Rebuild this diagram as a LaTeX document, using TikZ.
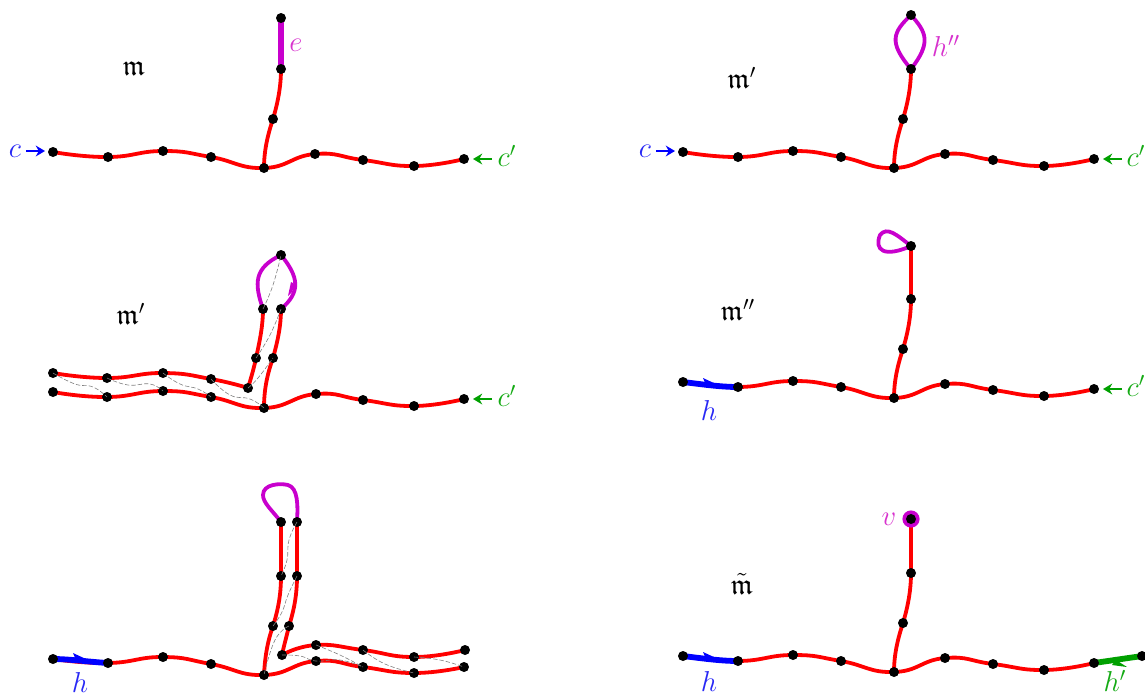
\documentclass[tikz,border=0pt,12pt]{standalone}
\usepackage{amssymb}
\usetikzlibrary{backgrounds,arrows.meta}
\definecolor{rd}{RGB}{255,0,0}
\definecolor{pu}{RGB}{200,0,205}
\definecolor{lpu}{RGB}{215,50,205}
\definecolor{bl}{RGB}{0,0,255}
\definecolor{lbl}{RGB}{40,40,245}
\definecolor{gr}{RGB}{0,160,0}
\definecolor{lgr}{RGB}{20,170,20}
\tikzset{
 dot/.style={circle,fill=black,inner sep=0pt,minimum size=5pt},
 redl/.style={draw=rd,line width=1.9pt,line cap=round},
 rsm/.style={redl,smooth,tension=0.85},
 purl/.style={draw=pu,line width=1.9pt,line cap=round},
 thickl/.style={line width=2.9pt},
 guide/.style={draw=black!50,line width=0.3pt,dash pattern=on 2.2pt off 1pt,smooth,tension=0.8},
 lab/.style={inner sep=0pt,font=\large},
 frak/.style={inner sep=0pt,font=\large},
 side/.style={line width=1.3pt,-{Stealth[length=4.6pt,width=5.4pt]}},
}
\newcommand{\dotat}[3]{\node[dot] (#1) at (#2,#3) {};}
\newcommand{\rowdots}[3]{%
 \dotat{#1a}{53+#2}{152+#3}\dotat{#1b}{108+#2}{157+#3}\dotat{#1c}{163+#2}{151+#3}\dotat{#1d}{211+#2}{157+#3}%
 \dotat{#1e}{264+#2}{168+#3}\dotat{#1f}{315+#2}{154+#3}\dotat{#1g}{363+#2}{160+#3}\dotat{#1h}{414+#2}{166+#3}\dotat{#1i}{464+#2}{159+#3}%
 \dotat{#1u}{273+#2}{119+#3}\dotat{#1w}{281+#2}{69+#3}%
 \begin{scope}[on background layer]
 \draw[rsm] plot coordinates {(#1a.center)(#1b.center)(#1c.center)(#1d.center)(#1e.center)(#1f.center)(#1g.center)(#1h.center)(#1i.center)};
 \draw[redl] (#1e.center) .. controls (264+#2,150+#3) and (268+#2,134+#3) .. (#1u.center) .. controls (278+#2,102+#3) and (281+#2,86+#3) .. (#1w.center);
 \end{scope}}
\begin{document}
\begin{tikzpicture}[x=0.5pt,y=-0.5pt]
\useasboundingbox (0,0) rectangle (1145,693);

% ---------- top left
\rowdots{p}{0}{0}
\node[dot] (pt) at (281,18) {};
\begin{scope}[on background layer]
\draw[purl,thickl] (pw.center) -- (pt.center);
\end{scope}
\node[lab,text=lpu] (pe) at (296,45) {$e$};
\node[frak] (pm) at (134,69) {$\mathfrak{m}$};
\node[lab,text=lbl] (pc) at (15,151) {$c$};
\coordinate (pc0) at (26,151);
\coordinate (pc1) at (45,151);
\draw[side,bl] (pc0) -- (pc1);
\node[lab,text=lgr] (pd) at (507,156) {$c'$};
\coordinate (pd0) at (492,159);
\coordinate (pd1) at (473,159);
\draw[side,gr] (pd0) -- (pd1);

% ---------- top right
\rowdots{q}{630}{0}
\node[dot] (qt) at (911,15) {};
\begin{scope}[on background layer]
\draw[purl] (qw.center) .. controls (888,42) and (893,32) .. (qt.center);
\draw[purl] (qw.center) .. controls (932,42) and (926,32) .. (qt.center);
\end{scope}
\fill[pu] (920,52) -- (925,38) -- (925,48) -- (918,58) -- cycle;
\node[lab,text=lpu] (qh) at (946,46) {$h''$};
\node[frak] (qm) at (742,78) {$\mathfrak{m}'$};
\node[lab,text=lbl] (qc) at (645,151) {$c$};
\coordinate (qc0) at (656,151);
\coordinate (qc1) at (675,151);
\draw[side,bl] (qc0) -- (qc1);
\node[lab,text=lgr] (qd) at (1136,156) {$c'$};
\coordinate (qd0) at (1122,159);
\coordinate (qd1) at (1103,159);
\draw[side,gr] (qd0) -- (qd1);

% ---------- middle left
\node[dot] (ra) at (53,373) {};
\node[dot] (rb) at (107,378) {};
\node[dot] (rc) at (163,373) {};
\node[dot] (rd) at (211,379) {};
\node[dot] (rx) at (248,388) {};
\node[dot] (rA) at (53,392) {};
\node[dot] (rB) at (107,397) {};
\node[dot] (rC) at (163,391) {};
\node[dot] (rD) at (211,397) {};
\node[dot] (rE) at (264,408) {};
\node[dot] (rF) at (316,394) {};
\node[dot] (rG) at (363,400) {};
\node[dot] (rH) at (414,406) {};
\node[dot] (rI) at (464,399) {};
\node[dot] (ru) at (256,358) {};
\node[dot] (rw) at (263,309) {};
\node[dot] (rU) at (273,358) {};
\node[dot] (rW) at (281,309) {};
\node[dot] (rt) at (281,255) {};
\begin{scope}[on background layer]
\draw[rsm] plot coordinates {(ra.center)(rb.center)(rc.center)(rd.center)(rx.center)};
\draw[rsm] plot coordinates {(rA.center)(rB.center)(rC.center)(rD.center)(rE.center)(rF.center)(rG.center)(rH.center)(rI.center)};
\draw[redl] (rx.center) .. controls (251,378) and (254,368) .. (ru.center) .. controls (260,340) and (263,325) .. (rw.center);
\draw[redl] (rE.center) .. controls (264,390) and (267,375) .. (rU.center) .. controls (278,340) and (281,325) .. (rW.center);
\draw[purl] (rw.center) .. controls (254,283) and (254,268) .. (rt.center);
\draw[purl] (rW.center) .. controls (301,292) and (299,277) .. (rt.center);
\end{scope}
\fill[pu] (288,296) -- (291,282) -- (295,284) -- (292,292) -- cycle;
\draw[guide] plot coordinates {(ra.center)(75,384)(93,387)(rB.center)};
\draw[guide] plot coordinates {(rb.center)(128,385)(150,384)(rC.center)};
\draw[guide] plot coordinates {(rc.center)(180,384)(198,389)(rD.center)};
\draw[guide] plot coordinates {(rd.center)(230,395)(250,399)(rE.center)};
\draw[guide] plot coordinates {(rx.center)(258,378)(rU.center)};
\draw[guide] plot coordinates {(ru.center)(270,335)(rW.center)};
\draw[guide] plot coordinates {(rw.center)(273,285)(rt.center)};
\node[frak] (rm) at (131,314) {$\mathfrak{m}'$};
\node[lab,text=lgr] (rk) at (507,396) {$c'$};
\coordinate (rk0) at (492,399);
\coordinate (rk1) at (473,399);
\draw[side,gr] (rk0) -- (rk1);

% ---------- middle right
\rowdots{s}{630}{230}
\node[dot] (st) at (911,246) {};
\begin{scope}[on background layer]
\draw[purl] (st.center) .. controls (897,235) and (887,226) .. (880,235) .. controls (874,250) and (884,258) .. (st.center);
\draw[redl] (sw.center) -- (st.center);
\draw[bl,thickl] (sa.center) .. controls (700,384) and (720,387) .. (sb.center);
\end{scope}
\fill[bl] (703,378) -- (716,384) -- (706,385) -- cycle;
\node[lab,text=lbl] (sh) at (709,410) {$h$};
\node[frak] (sm) at (738,310) {$\mathfrak{m}''$};
\node[lab,text=lgr] (sd) at (1136,386) {$c'$};
\coordinate (sd0) at (1122,389);
\coordinate (sd1) at (1103,389);
\draw[side,gr] (sd0) -- (sd1);

% ---------- bottom left
\node[dot] (ta) at (53,659) {};
\node[dot] (tb) at (108,663) {};
\node[dot] (tc) at (163,657) {};
\node[dot] (td) at (211,664) {};
\node[dot] (te) at (264,675) {};
\node[dot] (tf) at (316,661) {};
\node[dot] (tg) at (363,667) {};
\node[dot] (th) at (414,673) {};
\node[dot] (ti) at (464,667) {};
\node[dot] (tF) at (316,645) {};
\node[dot] (tG) at (363,650) {};
\node[dot] (tH) at (414,657) {};
\node[dot] (tI) at (465,650) {};
\node[dot] (tx) at (282,655) {};
\node[dot] (tu) at (273,626) {};
\node[dot] (tU) at (289,626) {};
\node[dot] (tw) at (281,576) {};
\node[dot] (tW) at (297,576) {};
\node[dot] (ty) at (281,522) {};
\node[dot] (tY) at (297,522) {};
\begin{scope}[on background layer]
\draw[rsm] plot coordinates {(ta.center)(tb.center)(tc.center)(td.center)(te.center)(tf.center)(tg.center)(th.center)(ti.center)};
\draw[rsm] plot coordinates {(tx.center)(tF.center)(tG.center)(tH.center)(tI.center)};
\draw[redl] (te.center) .. controls (265,655) and (268,640) .. (tu.center) .. controls (278,610) and (281,595) .. (tw.center) -- (ty.center);
\draw[redl] (tx.center) .. controls (284,645) and (287,635) .. (tU.center) .. controls (294,610) and (297,595) .. (tW.center) -- (tY.center);
\draw[purl] (ty.center) .. controls (272,510) and (263,503) .. (263,495) .. controls (263,484) and (280,483) .. (288,485) .. controls (298,488) and (298,505) .. (tY.center);
\draw[bl,thickl] (ta.center) .. controls (70,659) and (90,662) .. (tb.center);
\end{scope}
\fill[bl] (73,653) -- (86,659) -- (76,660) -- cycle;
\draw[guide] plot coordinates {(tY.center)(289,540)(287,560)(tw.center)};
\draw[guide] plot coordinates {(tW.center)(288,595)(282,612)(tu.center)};
\draw[guide] plot coordinates {(tU.center)(275,640)(te.center)};
\draw[guide] plot coordinates {(tx.center)(300,656)(tf.center)(340,660)(tg.center)};
\draw[guide] plot coordinates {(tF.center)(340,655)(tg.center)};
\draw[guide] plot coordinates {(tG.center)(385,664)(th.center)};
\draw[guide] plot coordinates {(tH.center)(440,660)(ti.center)};
\node[lab,text=lbl] (tl) at (80,682) {$h$};

% ---------- bottom right
\rowdots{v}{630}{504}
\node[circle,fill=pu,minimum size=8.6pt,inner sep=0pt] (vr) at (911,519) {};
\node[dot] (vt) at (911,519) {};
\node[dot] (vz) at (1142,656) {};
\begin{scope}[on background layer]
\draw[redl] (vw.center) -- (vt.center);
\draw[bl,thickl] (va.center) .. controls (700,658) and (720,661) .. (vb.center);
\draw[gr,thickl] (vi.center) -- (vz.center);
\end{scope}
\fill[bl] (703,652) -- (716,658) -- (706,659) -- cycle;
\fill[gr] (1127,667) -- (1116,660) -- (1112,665) -- cycle;
\node[lab,text=lpu] (vv) at (889,519) {$v$};
\node[frak] (vm) at (742,584) {$\tilde{\mathfrak{m}}$};
\node[lab,text=lbl] (vh) at (709,681) {$h$};
\node[lab,text=lgr] (vg) at (1115,681) {$h'$};
\end{tikzpicture}
\end{document}
